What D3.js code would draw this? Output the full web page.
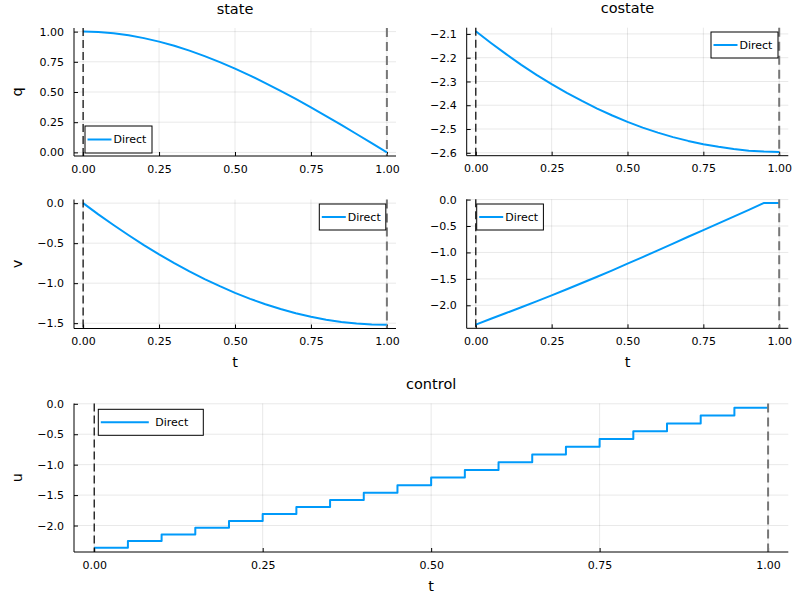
<!DOCTYPE html>
<html>
<head>
<meta charset="utf-8">
<script src="https://cdn.jsdelivr.net/npm/d3@7"></script>
<style>
  body { margin: 0; background: #fff; }
  svg { display: block; font-family: "DejaVu Sans", sans-serif; }
</style>
</head>
<body>
<svg id="chart" width="800" height="600"></svg>
<script>
// ---- data ----
const t = [0.00, 0.05, 0.10, 0.15, 0.20, 0.25, 0.30, 0.35, 0.40, 0.45, 0.50,
           0.55, 0.60, 0.65, 0.70, 0.75, 0.80, 0.85, 0.90, 0.95, 1.00];
const stateQ = [1.000, 0.9965, 0.9862, 0.9693, 0.9462, 0.9171, 0.8824, 0.8423, 0.7973, 0.7476, 0.6936,
                0.6357, 0.5742, 0.5096, 0.4422, 0.3723, 0.3004, 0.2269, 0.1522, 0.0767, 0.000];
const stateV = [0.000, -0.140, -0.273, -0.401, -0.524, -0.640, -0.750, -0.853, -0.949, -1.038, -1.121,
                -1.196, -1.263, -1.323, -1.375, -1.419, -1.456, -1.484, -1.504, -1.516, -1.521];
const costate1 = [-2.089, -2.138, -2.185, -2.230, -2.272, -2.311, -2.348, -2.382, -2.414, -2.443, -2.470,
                  -2.494, -2.515, -2.534, -2.550, -2.564, -2.575, -2.584, -2.591, -2.595, -2.597];
const costate2 = [-2.366, -2.255, -2.146, -2.037, -1.926, -1.812, -1.697, -1.579, -1.460, -1.338, -1.212,
                  -1.088, -0.960, -0.832, -0.704, -0.578, -0.450, -0.322, -0.194, -0.064, -0.064];
const control = [-2.366, -2.255, -2.146, -2.037, -1.926, -1.812, -1.697, -1.579, -1.460, -1.338, -1.212,
                 -1.088, -0.960, -0.832, -0.704, -0.578, -0.450, -0.322, -0.194, -0.064, -0.064];
const xTicks = [0, 0.25, 0.5, 0.75, 1.0];
const qTicks = [0, 0.25, 0.5, 0.75, 1.0];
const p1Ticks = [-2.6, -2.5, -2.4, -2.3, -2.2, -2.1];
const vTicks = [-1.5, -1.0, -0.5, 0.0];
const p2Ticks = [-2.0, -1.5, -1.0, -0.5, 0.0];
const uTicks = [-2.0, -1.5, -1.0, -0.5, 0.0];
const seriesName = "Direct";
const t0 = 0, tf = 1;

// ---- layout ----
const BLUE = "#009AFA";
const svg = d3.select("#chart");
const fmt2 = v => d3.format(".2f")(v).replace("-", "\u2212");
const fmt1 = v => d3.format(".1f")(v).replace("-", "\u2212");

const panels = [
  { box: [74, 396, 28, 156], y: stateQ, yt: qTicks, yf: fmt2, title: "state", ylab: "q", xlab: null,
    leg: { x: 85, y: 126, w: 67, h: 27, line: 24 } },
  { box: [466.7, 788.3, 27.7, 155.7], y: costate1, yt: p1Ticks, yf: fmt1, title: "costate", ylab: null, xlab: null,
    leg: { x: 711, y: 32, w: 67, h: 26, line: 24 } },
  { box: [74, 396, 199.5, 328.5], y: stateV, yt: vTicks, yf: fmt1, title: null, ylab: "v", xlab: "t",
    leg: { x: 319.3, y: 204, w: 66.5, h: 26, line: 24 } },
  { box: [466.7, 788.3, 199.3, 328.3], y: costate2, yt: p2Ticks, yf: fmt1, title: null, ylab: null, xlab: "t",
    leg: { x: 476.7, y: 204, w: 66.7, h: 26, line: 24 } },
  { box: [74, 788.3, 403.5, 552], y: control, yt: uTicks, yf: fmt1, title: "control", ylab: "u", xlab: "t", step: true,
    leg: { x: 98.3, y: 409.3, w: 105, h: 26, line: 48 } },
];

function widen(ext) {
  const pad = (ext[1] - ext[0]) * 0.03;
  return [ext[0] - pad, ext[1] + pad];
}

panels.forEach(p => {
  const [L, R, T, B] = p.box;
  const x = d3.scaleLinear().domain(widen([t0, tf])).range([L, R]);
  const y = d3.scaleLinear().domain(widen(d3.extent(p.y))).range([B, T]);
  const g = svg.append("g");

  // grid
  g.selectAll(".gx").data(xTicks).enter().append("line")
    .attr("x1", d => x(d)).attr("x2", d => x(d)).attr("y1", T).attr("y2", B)
    .attr("stroke", "#000").attr("stroke-opacity", 0.09).attr("stroke-width", 1);
  g.selectAll(".gy").data(p.yt).enter().append("line")
    .attr("x1", L).attr("x2", R).attr("y1", d => y(d)).attr("y2", d => y(d))
    .attr("stroke", "#000").attr("stroke-opacity", 0.09).attr("stroke-width", 1);

  // axes (left & bottom), inward ticks, labels
  const ax = d3.axisBottom(x).tickValues(xTicks).tickFormat(fmt2).tickSizeInner(-4).tickSizeOuter(0).tickPadding(9);
  const ay = d3.axisLeft(y).tickValues(p.yt).tickFormat(p.yf).tickSizeInner(-4).tickSizeOuter(0).tickPadding(10);
  const gx = g.append("g").attr("transform", `translate(0,${B})`).call(ax);
  const gy = g.append("g").attr("transform", `translate(${L},0)`).call(ay);
  [gx, gy].forEach(a => {
    a.select(".domain").remove();
    a.selectAll("text").attr("font-size", 11).attr("fill", "#000").attr("font-family", "DejaVu Sans");
    a.selectAll(".tick line").attr("stroke", "#000").attr("stroke-width", 1);
  });
  gx.selectAll(".tick line").attr("y1", 0).attr("y2", -4);
  gy.selectAll(".tick line").attr("x1", 0).attr("x2", 4);

  // series
  const line = d3.line().x((d, i) => x(t[i])).y(d => y(d));
  if (p.step) line.curve(d3.curveStepAfter);
  g.append("path").datum(p.y).attr("d", line)
    .attr("fill", "none").attr("stroke", BLUE).attr("stroke-width", 2).attr("stroke-linejoin", "round");

  // vertical dashed lines at t0 and tf
  g.append("line").attr("x1", x(t0)).attr("x2", x(t0)).attr("y1", T).attr("y2", B)
    .attr("stroke", "#000").attr("stroke-width", 1.2).attr("stroke-dasharray", "8,4");
  g.append("line").attr("x1", x(tf)).attr("x2", x(tf)).attr("y1", T).attr("y2", B)
    .attr("stroke", "#777").attr("stroke-width", 2).attr("stroke-dasharray", "9,5");

  // axis lines
  g.append("line").attr("x1", L).attr("x2", L).attr("y1", T).attr("y2", B).attr("stroke", "#000").attr("stroke-width", 1);
  g.append("line").attr("x1", L).attr("x2", R).attr("y1", B).attr("y2", B).attr("stroke", "#000").attr("stroke-width", 1);

  // title & labels
  if (p.title) g.append("text").attr("x", (L + R) / 2).attr("y", T - 19.5).attr("dy", "0.35em")
    .attr("text-anchor", "middle").attr("font-size", 14.5).text(p.title);
  if (p.ylab) g.append("text").attr("transform", `translate(17,${(T + B) / 2}) rotate(-90)`)
    .attr("dy", "0.35em").attr("text-anchor", "middle").attr("font-size", 14.5).text(p.ylab);
  if (p.xlab) g.append("text").attr("x", (L + R) / 2).attr("y", B + 33.5).attr("dy", "0.35em")
    .attr("text-anchor", "middle").attr("font-size", 14.5).text(p.xlab);

  // legend
  const lg = p.leg;
  const leg = g.append("g");
  leg.append("rect").attr("x", lg.x).attr("y", lg.y).attr("width", lg.w).attr("height", lg.h)
    .attr("fill", "#fff").attr("stroke", "#000").attr("stroke-width", 1);
  leg.append("line").attr("x1", lg.x + 2.5).attr("x2", lg.x + 2.5 + lg.line)
    .attr("y1", lg.y + lg.h / 2).attr("y2", lg.y + lg.h / 2)
    .attr("stroke", BLUE).attr("stroke-width", 2);
  leg.append("text").attr("x", lg.x + lg.line + (lg.line > 30 ? 9 : 4.5)).attr("y", lg.y + lg.h / 2)
    .attr("dy", "0.35em").attr("font-size", 11).text(seriesName);
});
</script>
</body>
</html>
